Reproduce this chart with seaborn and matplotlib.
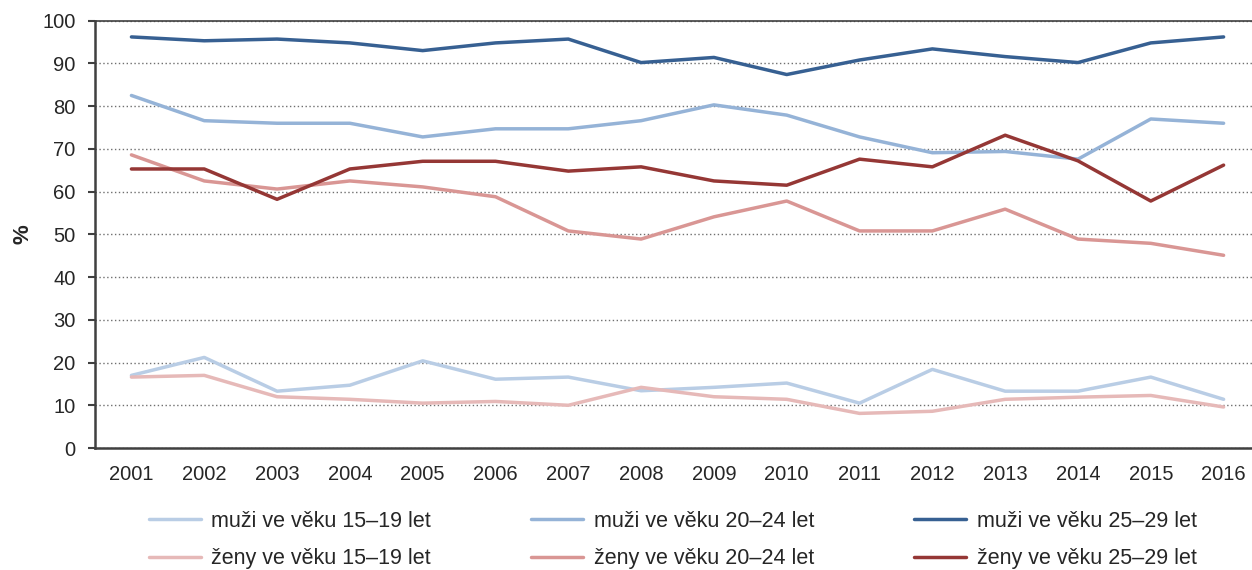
import numpy as np
import pandas as pd
import matplotlib
matplotlib.use("Agg")
import matplotlib.pyplot as plt
from matplotlib.ticker import FixedLocator, MultipleLocator
import seaborn as sns

years = list(range(2001, 2017))

muzi_15_19 = [17.0, 21.2, 13.3, 14.7, 20.4, 16.1, 16.6, 13.4, 14.2, 15.2, 10.5, 18.4, 13.3, 13.3, 16.6, 11.4]
muzi_20_24 = [82.5, 76.6, 76.0, 76.0, 72.8, 74.7, 74.7, 76.6, 80.3, 77.9, 72.8, 69.1, 69.4, 67.6, 77.0, 76.0]
muzi_25_29 = [96.2, 95.3, 95.7, 94.8, 93.0, 94.8, 95.7, 90.2, 91.4, 87.4, 90.8, 93.4, 91.6, 90.2, 94.8, 96.2]
zeny_15_19 = [16.6, 17.0, 12.0, 11.4, 10.5, 10.9, 10.0, 14.2, 12.0, 11.4, 8.1, 8.6, 11.4, 11.9, 12.3, 9.6]
zeny_20_24 = [68.6, 62.5, 60.6, 62.5, 61.1, 58.8, 50.8, 48.9, 54.1, 57.8, 50.8, 50.8, 55.9, 48.9, 47.9, 45.1]
zeny_25_29 = [65.3, 65.3, 58.2, 65.3, 67.1, 67.1, 64.8, 65.8, 62.5, 61.5, 67.6, 65.8, 73.2, 67.2, 57.8, 66.2]

series = {
    "muži ve věku 15–19 let": muzi_15_19,
    "muži ve věku 20–24 let": muzi_20_24,
    "muži ve věku 25–29 let": muzi_25_29,
    "ženy ve věku 15–19 let": zeny_15_19,
    "ženy ve věku 20–24 let": zeny_20_24,
    "ženy ve věku 25–29 let": zeny_25_29,
}
colors = ["#b9cde5", "#95b3d7", "#376092", "#e6b9b8", "#d99694", "#953735"]

rows = []
for name, vals in series.items():
    for i, v in enumerate(vals):
        rows.append({"idx": i, "value": v, "serie": name})
df = pd.DataFrame(rows)

sns.set_style("white")
plt.rcParams["font.family"] = ["Liberation Sans", "DejaVu Sans"]

fig = plt.figure(figsize=(12.52, 5.70), dpi=100)
ax = fig.add_axes([0.0759, 0.214, 0.9241, 0.7497])

sns.lineplot(data=df, x="idx", y="value", hue="serie",
             palette=dict(zip(series.keys(), colors)),
             linewidth=2.5, ax=ax, legend=False)

ax.set_xlim(-0.5, 15.39)
ax.set_ylim(0, 100)
ax.yaxis.set_major_locator(MultipleLocator(10))
ax.grid(axis="y", linestyle=(0, (1, 1.8)), color="#6f6f6f", linewidth=1.0)
ax.set_axisbelow(True)

ax.set_xticks(range(len(years)))
ax.set_xticklabels([str(y) for y in years])
ax.xaxis.set_minor_locator(FixedLocator(np.arange(-0.5, 16, 1)))
ax.tick_params(axis="x", which="major", length=0, pad=12, labelsize=14.5)
ax.tick_params(axis="x", which="minor", length=5, width=1.5, color="#404040", direction="out")
ax.tick_params(axis="y", length=5, width=1.5, color="#404040", direction="out", pad=9, labelsize=14.5, left=True)

for side in ["left", "bottom", "top"]:
    ax.spines[side].set_visible(True)
    ax.spines[side].set_color("#404040")
    ax.spines[side].set_linewidth(1.8)
ax.spines["right"].set_visible(False)
ax.spines["top"].set_linewidth(1.2)

ax.set_xlabel("")
ax.set_ylabel("%", fontsize=16, fontweight="bold")
ax.yaxis.set_label_coords(-0.053, 0.5)

handles = ax.get_lines()[:6]
names = list(series.keys())
order = [0, 3, 1, 4, 2, 5]
fig.legend([handles[i] for i in order], [names[i] for i in order],
           loc="upper left", bbox_to_anchor=(149 / 1252, 1 - 511 / 570), ncol=3,
           frameon=False, fontsize=15.5, handlelength=2.4, handletextpad=0.5,
           columnspacing=4.65, labelspacing=0.76, borderpad=0, borderaxespad=0)

fig.savefig("out.png", dpi=100)
